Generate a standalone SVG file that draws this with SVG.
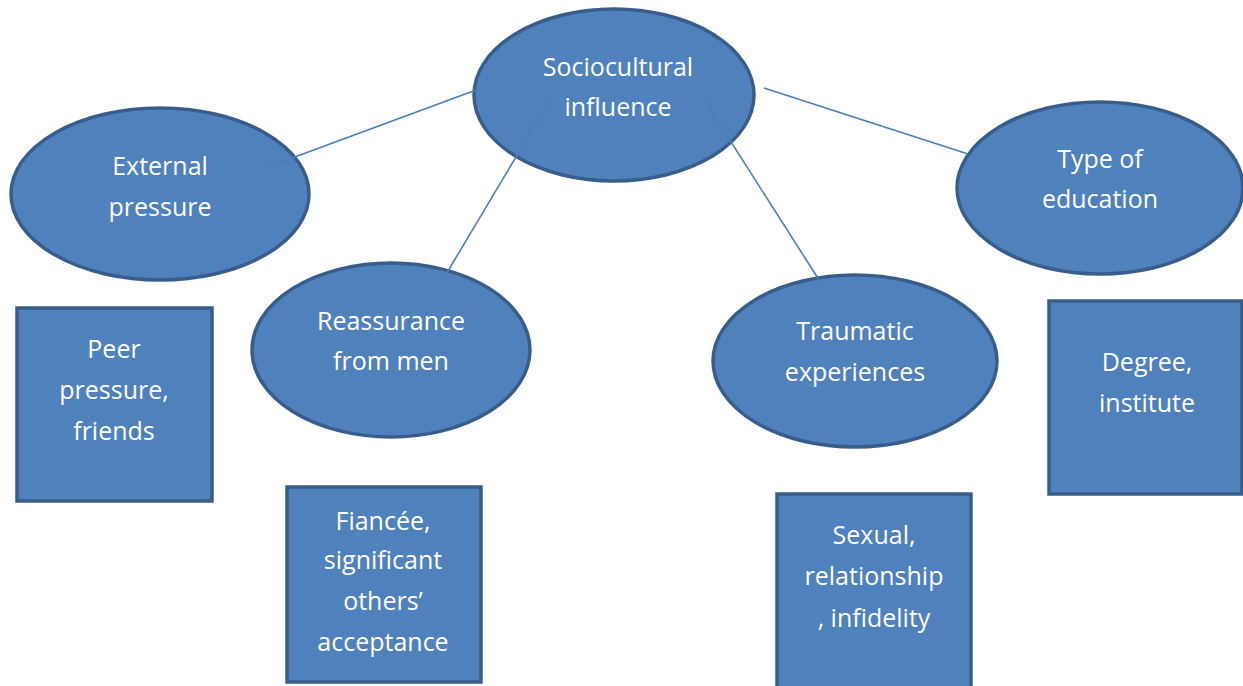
<svg xmlns="http://www.w3.org/2000/svg" width="1243" height="686" viewBox="0 0 1243 686">
<style>
.n{fill:#4f81bd;stroke:#385d8a;stroke-width:3.5}
.t{fill:#ffffff;font-family:"Open Sans","Liberation Sans",sans-serif;font-size:25px;text-anchor:middle}
.c{stroke:#4a7ebb;stroke-width:1.6;fill:none}
</style>
<rect width="1243" height="686" fill="#ffffff"/>
<g id="n-socio"><ellipse class="n" cx="614" cy="95" rx="140" ry="86"/><text class="t" x="618" y="76">Sociocultural</text><text class="t" x="618" y="116">influence</text></g>
<g id="n-external"><ellipse class="n" cx="160" cy="194" rx="149" ry="86"/><text class="t" x="160" y="175">External</text><text class="t" x="160" y="216">pressure</text></g>
<g id="n-type"><ellipse class="n" cx="1100" cy="188" rx="143" ry="86"/><text class="t" x="1100" y="168">Type of</text><text class="t" x="1100" y="208">education</text></g>
<g id="n-reassurance"><ellipse class="n" cx="391" cy="350" rx="139" ry="87"/><text class="t" x="391" y="330">Reassurance</text><text class="t" x="391" y="370">from men</text></g>
<g id="n-traumatic"><ellipse class="n" cx="855" cy="361" rx="142" ry="86"/><text class="t" x="855" y="340">Traumatic</text><text class="t" x="855" y="381">experiences</text></g>
<g id="n-peer"><rect class="n" x="17" y="308" width="195" height="193"/><text class="t" x="114" y="358">Peer</text><text class="t" x="114" y="399">pressure,</text><text class="t" x="114" y="440">friends</text></g>
<g id="n-fiancee"><rect class="n" x="287" y="487" width="194" height="195"/><text class="t" x="383" y="530">Fiancée,</text><text class="t" x="383" y="569">significant</text><text class="t" x="383" y="610">others’</text><text class="t" x="383" y="651">acceptance</text></g>
<g id="n-sexual"><rect class="n" x="777" y="494" width="194" height="200"/><text class="t" x="874" y="544">Sexual,</text><text class="t" x="874" y="585">relationship</text><text class="t" x="874" y="627">, infidelity</text></g>
<g id="n-degree"><rect class="n" x="1049" y="301" width="193" height="193"/><text class="t" x="1147" y="371">Degree,</text><text class="t" x="1147" y="412">institute</text></g>
<g id="connectors">
<line class="c" x1="476" y1="90" x2="265" y2="168"/>
<line class="c" x1="550" y1="100" x2="445" y2="276"/>
<line class="c" x1="703" y1="98" x2="821" y2="283"/>
<line class="c" x1="764" y1="88" x2="968" y2="154"/>
</g>
</svg>
